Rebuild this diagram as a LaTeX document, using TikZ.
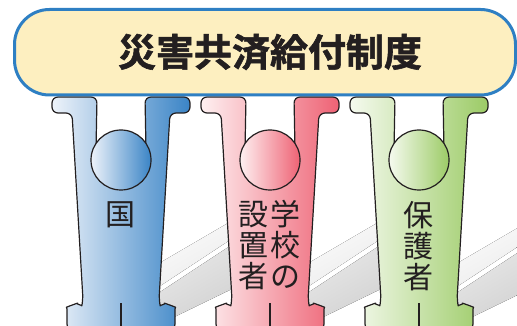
\documentclass[tikz,border=0pt]{standalone}
\usepackage{fontspec}
\usepackage{xcolor}
\usepackage{tikz}
\newfontfamily\jpfont{Noto Sans CJK JP}
\newfontfamily\jpbold{Noto Sans CJK JP Bold}[FakeBold=1.5]
\definecolor{bannerfill}{HTML}{FDEFC0}
\definecolor{bannerline}{HTML}{2E7FC3}
\definecolor{inkgray}{HTML}{231F20}
\definecolor{blueL}{HTML}{EEF3FA}
\definecolor{blueD}{HTML}{3A84C6}
\definecolor{redL}{HTML}{FEF0F1}
\definecolor{redD}{HTML}{EE6274}
\definecolor{greenL}{HTML}{F5FAEF}
\definecolor{greenD}{HTML}{9CCB66}

\begin{document}
\begin{tikzpicture}[
    x=1pt, y=-1pt,
    figline/.style={draw=inkgray, line width=1.2pt, line join=round},
    figbody/.style={figline, left color=#1L, right color=#1D},
    shadowlow/.style={top color=black!7, bottom color=black!19, shading angle=30},
    shadowhigh/.style={top color=white, bottom color=black!9, shading angle=30},
    banner/.style={draw=bannerline, line width=3pt, fill=bannerfill, rounded corners=35pt},
    headline/.style={font=\jpbold\fontsize{38}{40}\selectfont, text=inkgray, inner sep=0pt},
    figtext/.style={font=\jpfont\fontsize{30}{31}\selectfont, text=inkgray, align=center, inner sep=0pt}
]
\useasboundingbox (0,0) rectangle (517,326);
\clip (0,0) rectangle (517,326);

% shadows falling back to the right, with a light streak between the bands
\foreach \c in {121,270,419} {
  \fill[shadowhigh] (\c+30,268) -- (\c+150,198) -- (\c+150,213) -- (\c+36,288) -- cycle;
  \fill[shadowlow] (\c+36,294) -- (\c+150,219) -- (\c+150,270) -- (\c+45,321) -- cycle;
}

% the three figures holding up the banner
\foreach \c/\col in {121/blue, 270/red, 419/green} {
  \draw[figbody=\col, rounded corners=6pt]
    (\c-25,150) -- (\c-24,97) -- (\c-69,97) -- (\c-69,113) -- (\c-49,113) -- (\c-38,300)
    .. controls (\c-39,305) and (\c-46,304) .. (\c-49,305)
    .. controls (\c-54,307) and (\c-54,311) .. (\c-54,316) -- (\c-54,330)
    -- (\c+54,330) -- (\c+54,316)
    .. controls (\c+54,311) and (\c+54,307) .. (\c+49,305)
    .. controls (\c+46,304) and (\c+39,305) .. (\c+38,300)
    -- (\c+49,113) -- (\c+69,113) -- (\c+69,97) -- (\c+24,97) -- (\c+25,150) -- cycle;
  \draw[figline] (\c,303) -- (\c,330);
  \draw[figbody=\col] (\c,160) circle[radius=30pt];
}

\node[figtext] (kuni) at (120,215) {国};
\node[figtext] (gakko) at (285,244) {学\\校\\の};
\node[figtext] (secchi) at (253,246) {設\\置\\者};
\node[figtext] (hogo) at (418,246) {保\\護\\者};

% banner on top
\draw[banner] (14.5,9.5) rectangle (515.5,95);
\node[headline] (seido) at (270,52) {災害共済給付制度};

\end{tikzpicture}
\end{document}
